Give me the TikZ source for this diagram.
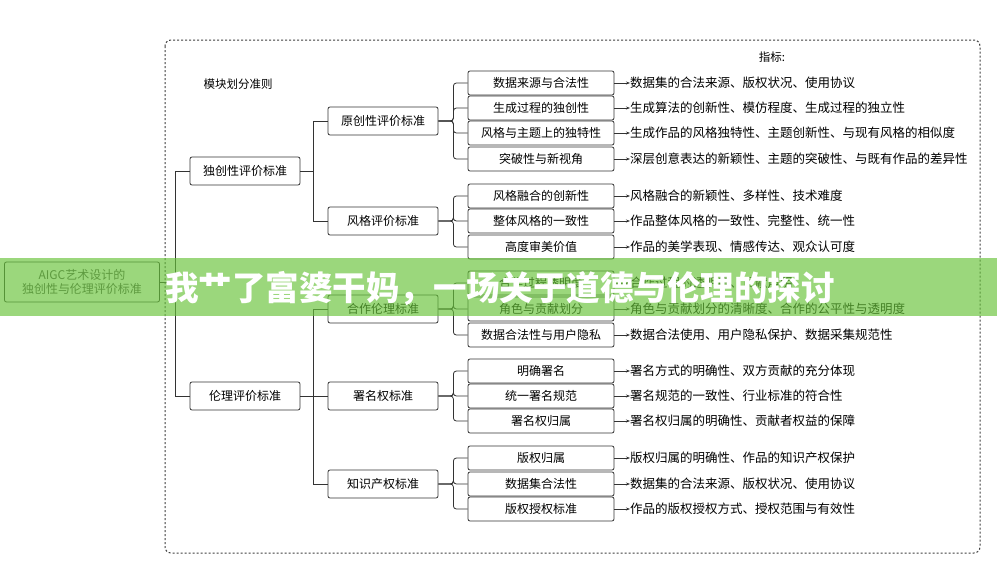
\documentclass[tikz,border=0pt]{standalone}
\usepackage{fontspec}
\setmainfont{Noto Sans CJK SC}
\usetikzlibrary{arrows.meta}
\begin{document}
\begin{tikzpicture}[x=1pt,y=-1pt,
  bx/.style={draw=black!80,line width=0.8pt,rounded corners=2pt,minimum height=26pt,font=\fontsize{12}{14}\selectfont,inner sep=1pt},
  lf/.style={bx,minimum width=146pt,minimum height=24pt},
  md/.style={bx,minimum width=110pt,minimum height=28pt},
  ind/.style={anchor=west,font=\fontsize{12.5}{14}\selectfont,inner sep=0pt},
  ln/.style={draw=black!80,line width=0.8pt},
  ar/.style={ln,-{Stealth[length=4pt]}}]
\useasboundingbox (0,0) rectangle (997,573);
\fill[white] (0,0) rectangle (997,573);
\draw[black!75,line width=1pt,dash pattern=on 2pt off 2pt,rounded corners=6pt] (165,40) rectangle (980,553);
\node[font=\fontsize{11.5}{13}\selectfont] (t1) at (238,84) {模块划分准则};
\node[font=\fontsize{11.5}{13}\selectfont] (t2) at (772,57) {指标:};
\node[bx,minimum width=155pt,minimum height=40pt,align=center,font=\fontsize{12}{14}\selectfont,text=black!70] (root) at (82,282) {AIGC艺术设计的\\独创性与伦理评价标准};
\node[md] (a) at (245,171) {独创性评价标准};
\node[md] (b) at (245,396) {伦理评价标准};
\coordinate (r1) at (175,282);
\draw[ln] (root.east) -- (r1);
\draw[ln] (r1) |- (a.west);
\draw[ln] (r1) |- (b.west);
\foreach \n/\y/\t in {a1/121/原创性评价标准, a2/221/风格评价标准, b1/309/合作伦理标准, b2/396/署名权标准, b3/484/知识产权标准}{
  \node[md] (\n) at (383,\y) {\t};
}
\draw[ln] (a.east) -- (313,171); \draw[ln] (313,121) -- (313,221);
\draw[ln] (313,121) -- (a1.west); \draw[ln] (313,221) -- (a2.west);
\draw[ln] (b.east) -- (313,396); \draw[ln] (313,309) -- (313,484);
\draw[ln] (313,309) -- (b1.west); \draw[ln] (313,396) -- (b2.west); \draw[ln] (313,484) -- (b3.west);
\foreach \n/\y/\t/\i/\p in {
 l1/83/数据来源与合法性/数据集的合法来源、版权状况、使用协议/a1,
 l2/108/生成过程的独创性/生成算法的创新性、模仿程度、生成过程的独立性/a1,
 l3/133/风格与主题上的独特性/生成作品的风格独特性、主题创新性、与现有风格的相似度/a1,
 l4/159/突破性与新视角/深层创意表达的新颖性、主题的突破性、与既有作品的差异性/a1,
 l5/196/风格融合的创新性/风格融合的新颖性、多样性、技术难度/a2,
 l6/221/整体风格的一致性/作品整体风格的一致性、完整性、统一性/a2,
 l7/247/高度审美价值/作品的美学表现、情感传达、观众认可度/a2,
 l8/283/合作过程透明度/合作过程的透明度、贡献声明/b1,
 l9/309/角色与贡献划分/角色与贡献划分的清晰度、合作的公平性与透明度/b1,
 l10/335/数据合法性与用户隐私/数据合法使用、用户隐私保护、数据采集规范性/b1,
 l11/371/明确署名/署名方式的明确性、双方贡献的充分体现/b2,
 l12/396/统一署名规范/署名规范的一致性、行业标准的符合性/b2,
 l13/421/署名权归属/署名权归属的明确性、贡献者权益的保障/b2,
 l14/458/版权归属/版权归属的明确性、作品的知识产权保护/b3,
 l15/484/数据集合法性/数据集的合法来源、版权状况、使用协议/b3,
 l16/509/版权授权标准/作品的版权授权方式、授权范围与有效性/b3}{
  \node[lf] (\n) at (541,\y) {\t};
  \node[ind] (i\n) at (630,\y) {\i};
  \draw[ar] (\n.east) -- (i\n.west);
  \draw[ln,rounded corners=3pt] (\p.east) -- ++(15,0) |- (\n.west);
}
\fill[green!55!lime!70!black,opacity=0.6] (0,258) rectangle (997,316);
\fill[white,opacity=0.15] (0,258) rectangle (997,316);
\node[text=white,font=\fontsize{33.5}{36}\selectfont\bfseries] (ttl) at (500,289) {我艹了富婆干妈，一场关于道德与伦理的探讨};
\end{tikzpicture}
\end{document}
